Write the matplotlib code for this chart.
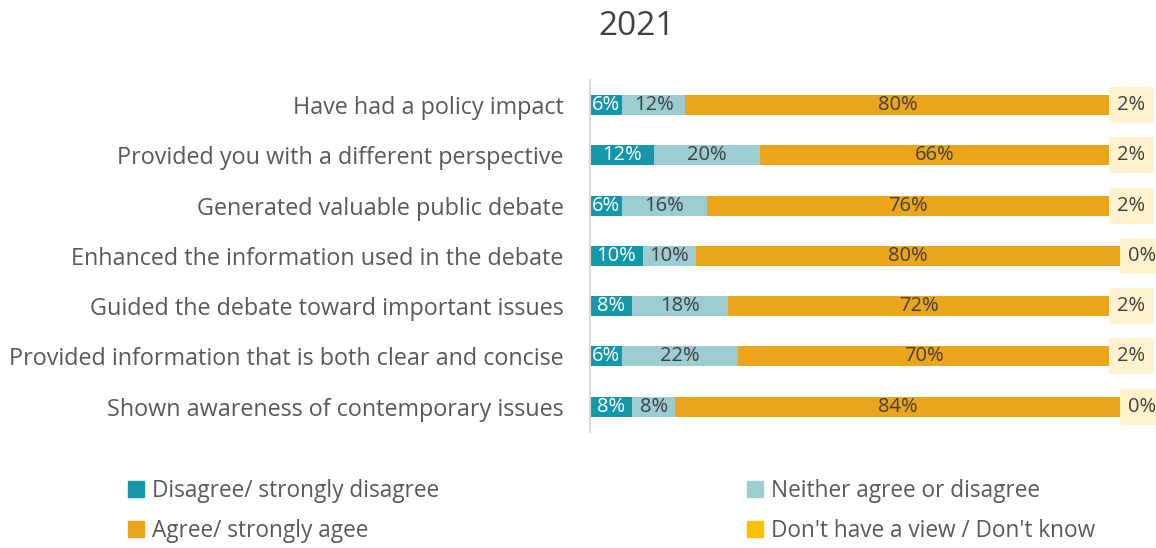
import matplotlib
matplotlib.use("Agg")
import matplotlib.pyplot as plt
from matplotlib.patches import Patch

plt.rcParams["font.family"] = ["Open Sans", "DejaVu Sans"]

categories = [
    "Have had a policy impact",
    "Provided you with a different perspective",
    "Generated valuable public debate",
    "Enhanced the information used in the debate",
    "Guided the debate toward important issues",
    "Provided information that is both clear and concise",
    "Shown awareness of contemporary issues",
]
disagree = [6, 12, 6, 10, 8, 6, 8]
neither = [12, 20, 16, 10, 18, 22, 8]
agree = [80, 66, 76, 80, 72, 70, 84]
dont_know = [2, 2, 2, 0, 2, 2, 0]

series = [
    ("Disagree/ strongly disagree", disagree, "#1497a8", "white"),
    ("Neither agree or disagree", neither, "#9bcdd3", "#404040"),
    ("Agree/ strongly agee", agree, "#eba51b", "#404040"),
    ("Don't have a view / Don't know", dont_know, "#ffc000", "#404040"),
]

fig = plt.figure(figsize=(11.56, 5.48), dpi=100)
ax = fig.add_axes([0.5104, 0.212, 0.4585, 0.642])

y = list(range(len(categories)))
left = [0] * len(categories)
for i, (name, vals, color, tcolor) in enumerate(series):
    ax.barh(y, vals, left=left, height=0.4, color=color, label=name)
    for yi, (l, v) in enumerate(zip(left, vals)):
        if i < 3:
            ax.text(l + v / 2, yi, f"{v}%", ha="center", va="center",
                    color=tcolor, fontsize=14.5)
        else:
            ax.text(l + 1.5, yi, f"{v}%", ha="left", va="center",
                    color=tcolor, fontsize=14.5, clip_on=False,
                    bbox=dict(boxstyle="square,pad=0.4", fc="#fff2cc", ec="none"))
    left = [a + b for a, b in zip(left, vals)]

ax.set_xlim(0, 100)
ax.set_ylim(len(categories) - 0.5, -0.5)
ax.set_yticks(y)
ax.set_yticklabels(categories, fontsize=16.8, color="#595959")
ax.tick_params(axis="y", length=0, pad=19)
ax.set_xticks([])
for s in ["top", "right", "bottom"]:
    ax.spines[s].set_visible(False)
ax.spines["left"].set_color("#d9d9d9")
ax.spines["left"].set_linewidth(1.5)

fig.text(0.551, 0.952, "2021", ha="center", va="center", fontsize=24, color="#404040")

handles = [Patch(color=c) for _, _, c, _ in series]
labels = [n for n, _, _, _ in series]
order = [0, 2, 1, 3]
fig.legend([handles[k] for k in order], [labels[k] for k in order],
           ncol=2, loc="center", bbox_to_anchor=(0.529, 0.068), frameon=False,
           fontsize=16.3, labelcolor="#595959", handlelength=0.7, handleheight=0.7,
           handletextpad=0.35, columnspacing=13.6, labelspacing=0.7)

fig.savefig("out.png", dpi=100)
